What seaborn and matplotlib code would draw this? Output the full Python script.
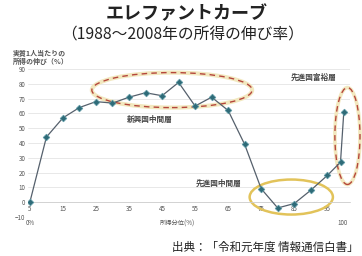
import pandas as pd
import matplotlib.pyplot as plt
import seaborn as sns
from matplotlib.patches import Ellipse

# 世界の所得分位ごとの実質所得の伸び率 (1988-2008)
percentile = [5, 10, 15, 20, 25, 30, 35, 40, 45, 50, 55, 60, 65, 70, 75, 80, 85, 90, 95, 99, 100]
growth = [0, 44, 57, 64, 68, 67, 71, 74, 72, 81, 65, 71, 62, 39, 9, -4, -1, 8, 18, 27, 61]
xticks = [5, 15, 25, 35, 45, 55, 65, 75, 85, 95]
yticks = [-10, 0, 10, 20, 30, 40, 50, 60, 70, 80, 90]

df = pd.DataFrame({'percentile': percentile, 'growth': growth})

sns.set_style('white')
plt.rcParams['font.family'] = ['Noto Sans CJK JP', 'DejaVu Sans']

fig = plt.figure(figsize=(3.62, 2.56), dpi=100)
ax = fig.add_axes([0.078, 0.153, 0.89, 0.577])

sns.lineplot(data=df, x='percentile', y='growth', ax=ax, color='#55606c', lw=0.9,
             marker='D', markersize=3.4, markerfacecolor='#2f6b78',
             markeredgecolor='#5d9aa5', markeredgewidth=0.5, zorder=3)

ax.set_xlim(4.5, 102)
ax.set_ylim(-10, 90)
ax.set_yticks(yticks)
ax.set_xticks(xticks)
ax.tick_params(axis='both', labelsize=4.5, labelcolor='#555555', length=0, pad=2)
ax.grid(axis='y', color='#e4e4e4', lw=0.6)
ax.set_axisbelow(True)
for s in ['top', 'right', 'left']:
    ax.spines[s].set_visible(False)
ax.spines['bottom'].set_position(('data', 0))
ax.spines['bottom'].set_color('#d0d0d0')
ax.spines['bottom'].set_linewidth(0.6)
ax.set_xlabel('')
ax.set_ylabel('')

# 楕円
ax.add_patch(Ellipse((48, 75.8), 48.5, 23.7, fill=False, ec='#f2e8bf', lw=3.0, zorder=1))
ax.add_patch(Ellipse((48, 75.8), 48.5, 23.7, fill=False, ec='#b5463c', lw=1.0,
                     ls=(0, (4, 3)), zorder=2))
ax.add_patch(Ellipse((84.1, 3.4), 25.2, 23.7, fill=False, ec='#e2c35a', lw=1.8, zorder=2))
ax.add_patch(Ellipse((101.1, 44.7), 7.6, 65.6, fill=False, ec='#f2e8bf', lw=2.6,
                     zorder=1, clip_on=False))
ax.add_patch(Ellipse((101.1, 44.7), 7.6, 65.6, fill=False, ec='#b5463c', lw=1.0,
                     ls=(0, (4, 3)), zorder=2, clip_on=False))

lab = dict(fontsize=5.5, color='#444444', fontweight='bold', ha='center', va='center')
ax.text(41.4, 56.2, '新興国中間層', **lab)
ax.text(90.8, 84.6, '先進国富裕層', **lab)
ax.text(62, 12.9, '先進国中間層', **lab)

fig.text(0.515, 0.945, 'エレファントカーブ', fontsize=13, fontweight='bold',
         ha='center', va='center', color='#222222')
fig.text(0.505, 0.862, '（1988～2008年の所得の伸び率）', fontsize=11.3,
         ha='center', va='center', color='#222222')
fig.text(0.035, 0.775, '実質1人当たりの\n所得の伸び（%）', fontsize=5, fontweight='bold',
         color='#555555', ha='left', va='center', linespacing=1.0)
fig.text(0.085, 0.128, '0%', fontsize=4.5, color='#555555', ha='center', va='center')
fig.text(0.49, 0.128, '所得分位(%)', fontsize=4.5, color='#555555', ha='center', va='center')
fig.text(0.947, 0.128, '100', fontsize=4.5, color='#555555', ha='center', va='center')
fig.text(0.992, 0.035, '出典：「令和元年度 情報通信白書」', fontsize=8.3,
         color='#222222', ha='right', va='center')

plt.savefig('out.png', dpi=100)
